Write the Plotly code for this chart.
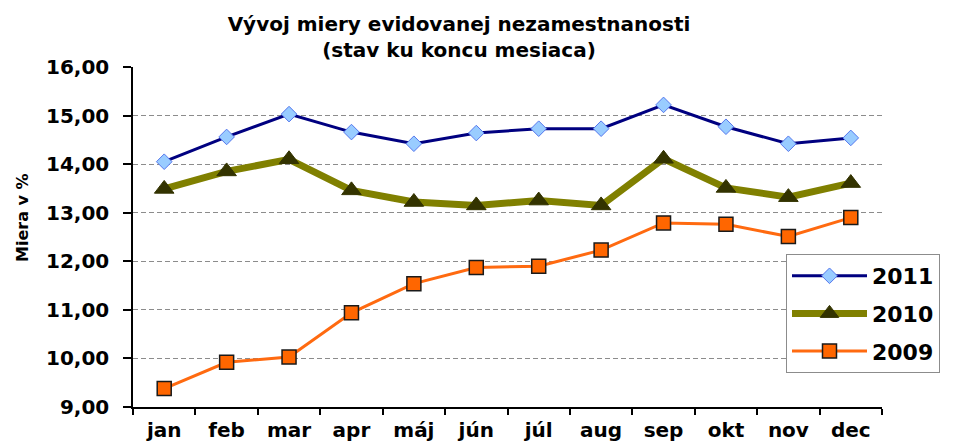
import plotly.graph_objects as go

months = ["jan", "feb", "mar", "apr", "máj", "jún", "júl", "aug", "sep", "okt", "nov", "dec"]
y2011 = [14.05, 14.56, 15.03, 14.66, 14.42, 14.64, 14.73, 14.73, 15.22, 14.77, 14.42, 14.54]
y2010 = [13.49, 13.85, 14.10, 13.46, 13.22, 13.15, 13.25, 13.15, 14.11, 13.51, 13.32, 13.61]
y2009 = [9.38, 9.92, 10.03, 10.94, 11.54, 11.87, 11.90, 12.23, 12.79, 12.76, 12.51, 12.90]
ytick_vals = [9, 10, 11, 12, 13, 14, 15, 16]
ytick_text = ["9,00", "10,00", "11,00", "12,00", "13,00", "14,00", "15,00", "16,00"]

FONT = "DejaVu Sans"

fig = go.Figure()
fig.add_trace(go.Scatter(
    x=months, y=y2011, name="2011", mode="lines+markers", legendgroup="a",
    line=dict(color="#000080", width=3),
    marker=dict(symbol="diamond", size=12, color="#99CCFF", line=dict(color="#5577EE", width=1)),
))
fig.add_trace(go.Scatter(
    x=months, y=y2010, name="2010", mode="lines+markers", legendgroup="b",
    line=dict(color="#808000", width=7),
    marker=dict(symbol="triangle-up", size=17, color="#333300", line=dict(color="#333300", width=1)),
))
fig.add_trace(go.Scatter(
    x=months, y=y2009, name="2009", mode="lines+markers", legendgroup="c",
    line=dict(color="#FF6A10", width=3),
    marker=dict(symbol="square", size=14, color="#FF6600", line=dict(color="#1a1a1a", width=1.5)),
))

fig.update_layout(
    width=953, height=441,
    margin=dict(l=133, r=71, t=67, b=34, autoexpand=False),
    paper_bgcolor="white", plot_bgcolor="white",
    font=dict(family=FONT, color="black"),
    title=dict(
        text="<b>Vývoj miery evidovanej nezamestnanosti<br>(stav ku koncu mesiaca)</b>",
        x=459 / 953, xanchor="center", xref="container",
        y=1 - 31 / 441, yanchor="top", yref="container",
        font=dict(family=FONT, size=20, color="black"),
    ),
    xaxis=dict(
        type="category", range=[-0.5, 11.5],
        showline=True, linecolor="black", linewidth=1.5,
        ticks="outside", tickson="boundaries", ticklen=6, tickcolor="black", tickwidth=1.5,
        showgrid=False, ticklabelstandoff=4,
        tickfont=dict(family=FONT, size=20, color="black", weight="bold"),
    ),
    yaxis=dict(
        range=[9, 16], tickvals=ytick_vals, ticktext=ytick_text,
        showline=True, linecolor="black", linewidth=1.5,
        ticks="outside", ticklen=8, tickcolor="black", tickwidth=1.5,
        showgrid=True, gridcolor="#8c8c8c", gridwidth=1, griddash="5px,3px",
        zeroline=False, ticklabelstandoff=10,
        tickfont=dict(family=FONT, size=20, color="black", weight="bold"),
    ),
    legend=dict(
        x=(786 - 133) / 749, xanchor="left",
        y=(407 - 254) / 340, yanchor="top",
        bgcolor="white", bordercolor="#8c8c8c", borderwidth=1,
        font=dict(family=FONT, size=22, color="black", weight="bold"),
        itemwidth=75, tracegroupgap=6, traceorder="grouped",
    ),
    annotations=[dict(
        text="<b>Miera v %</b>", textangle=-90,
        x=(22 - 133) / 749, xref="paper", xanchor="center",
        y=(407 - 218) / 340, yref="paper", yanchor="middle",
        showarrow=False, font=dict(family=FONT, size=16, color="black"),
    )],
)

fig.write_html(
    "out.html",
    config={"displayModeBar": False},
    post_script="document.body.style.margin='0';document.body.style.overflow='hidden';",
)
